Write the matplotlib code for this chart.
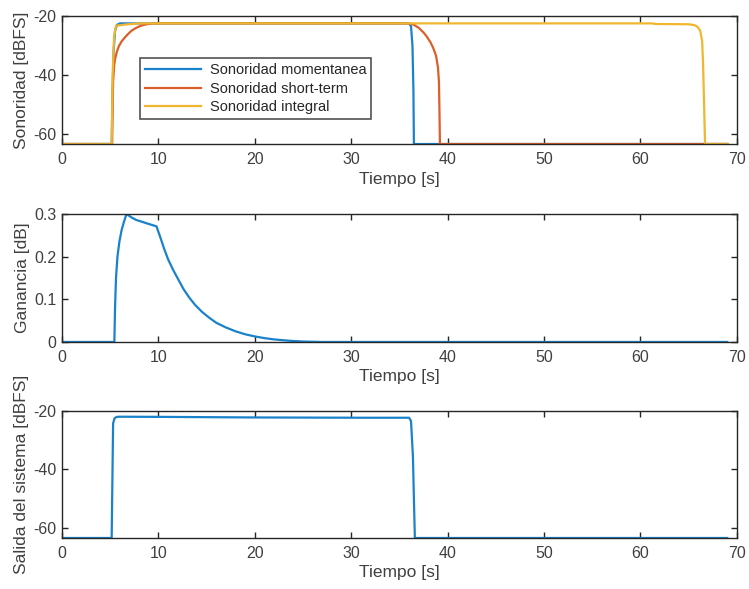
import matplotlib
matplotlib.use("Agg")
import matplotlib.pyplot as plt

plt.rcParams['font.family'] = ['Liberation Sans', 'DejaVu Sans']

# Loudness measurements (time in s, level in dBFS)
t_mom = [0, 5.15, 5.25, 5.35, 5.5, 5.7, 6.0, 36.0, 36.2, 36.35, 36.45, 36.5, 69.0]
l_mom = [-63.4, -63.4, -45.0, -32.0, -25.0, -23.0, -22.5, -22.5, -23.5, -30.0, -45.0, -63.4, -63.4]

t_short = [0, 5.2, 5.25, 5.3, 5.4, 5.5, 5.7, 5.9, 6.2, 6.7, 7.2, 7.7, 8.1, 8.6, 9.2, 9.8,
           36.0, 36.5, 37.0, 37.5, 37.8, 38.2, 38.5, 38.8, 39.0, 39.1, 39.15, 39.2, 69.0]
l_short = [-63.4, -63.4, -50.0, -42.0, -37.0, -34.6, -32.0, -30.2, -28.5, -26.6, -25.0, -24.0, -23.4, -22.9, -22.6, -22.5,
           -22.5, -23.0, -24.0, -25.6, -26.8, -28.8, -30.8, -33.5, -37.5, -42.5, -52.0, -63.4, -63.4]

t_int = [0, 5.15, 5.25, 5.4, 5.6, 6.5, 8.0, 61.2, 61.6, 65.0, 65.6, 65.9, 66.2, 66.4, 66.5, 66.6, 66.7, 69.0]
l_int = [-63.4, -63.4, -40.0, -27.0, -23.3, -22.9, -22.5, -22.5, -22.7, -22.8, -23.1, -23.6, -25.0, -28.5, -36.9, -50.0, -63.4, -63.4]

# Gain applied by the controller (dB)
t_gain = [0, 5.43, 5.5, 5.6, 5.75, 5.95, 6.18, 6.4, 6.69, 7.2, 7.7, 8.8, 9.8,
          10.2, 10.6, 11.0, 11.5, 12.0, 12.6, 13.2, 13.8, 14.5, 15.2, 16.0, 17.0,
          18.0, 19.0, 20.0, 21.0, 22.0, 23.5, 25.0, 27.0, 69.0]
g_gain = [0, 0, 0.08, 0.15, 0.20, 0.235, 0.262, 0.280, 0.300, 0.292, 0.286, 0.278, 0.271,
          0.245, 0.218, 0.194, 0.170, 0.149, 0.124, 0.104, 0.087, 0.071, 0.058, 0.045, 0.034,
          0.025, 0.018, 0.013, 0.009, 0.006, 0.003, 0.001, 0.0, 0.0]

# System output level (dBFS)
t_out = [0, 5.15, 5.22, 5.3, 5.45, 5.67, 6.0, 10.0, 20.0, 31.6, 36.0, 36.2, 36.4, 36.5, 36.6, 69.0]
l_out = [-63.4, -63.4, -45.0, -24.3, -22.6, -22.1, -22.05, -22.1, -22.3, -22.4, -22.4, -23.5, -35.7, -50.0, -63.4, -63.4]

xticks = [0, 10, 20, 30, 40, 50, 60, 70]
db_ticks = [-60, -40, -20]
gain_ticks = [0, 0.1, 0.2, 0.3]

C_BLUE = '#1A82CA'
C_ORANGE = '#DC5E2A'
C_YELLOW = '#EFB62E'
C_TEXT = '#404040'
C_AX = '#262626'

fig = plt.figure(figsize=(7.49, 5.89), dpi=100)
fig.patch.set_facecolor('white')

left, width = 0.0828, 0.901
ax1 = fig.add_axes([left, 0.7555, width, 0.2173])
ax2 = fig.add_axes([left, 0.4194, width, 0.2173])
ax3 = fig.add_axes([left, 0.0866, width, 0.2161])


def style(ax, yticks, ylim, ylabel):
    ax.set_xlim(0, 70)
    ax.set_ylim(*ylim)
    ax.set_xticks(xticks)
    ax.set_yticks(yticks)
    ax.set_yticklabels([('%g' % v) for v in yticks])
    ax.tick_params(direction='in', length=4, width=1.0, colors=C_AX,
                   labelcolor=C_TEXT, labelsize=11.5, top=True, right=True)
    ax.tick_params(axis='x', pad=6)
    ax.tick_params(axis='y', pad=4)
    for s in ax.spines.values():
        s.set_color(C_AX)
        s.set_linewidth(1.0)
    ax.set_xlabel('Tiempo [s]', fontsize=12.5, color=C_TEXT, labelpad=3)
    ax.set_ylabel(ylabel, fontsize=12.5, color=C_TEXT, labelpad=3)


lw = 1.6
ax1.plot(t_mom, l_mom, color=C_BLUE, lw=lw, label='Sonoridad momentanea')
ax1.plot(t_short, l_short, color=C_ORANGE, lw=lw, label='Sonoridad short-term')
ax1.plot(t_int, l_int, color=C_YELLOW, lw=lw, label='Sonoridad integral')
style(ax1, db_ticks, (-63.4, -20), 'Sonoridad [dBFS]')
leg = ax1.legend(loc='upper left', bbox_to_anchor=(0.116, 0.67), fontsize=10.5,
                 frameon=True, fancybox=False, edgecolor=C_AX, handlelength=3.8,
                 handletextpad=0.6, borderpad=0.35, labelspacing=0.3, borderaxespad=0)
leg.get_frame().set_linewidth(1.2)
for txt in leg.get_texts():
    txt.set_color(C_AX)

ax2.plot(t_gain, g_gain, color=C_BLUE, lw=lw)
style(ax2, gain_ticks, (0, 0.3), 'Ganancia [dB]')

ax3.plot(t_out, l_out, color=C_BLUE, lw=lw)
style(ax3, db_ticks, (-63.4, -20), 'Salida del sistema [dBFS]')

fig.savefig('out.png', dpi=100)
